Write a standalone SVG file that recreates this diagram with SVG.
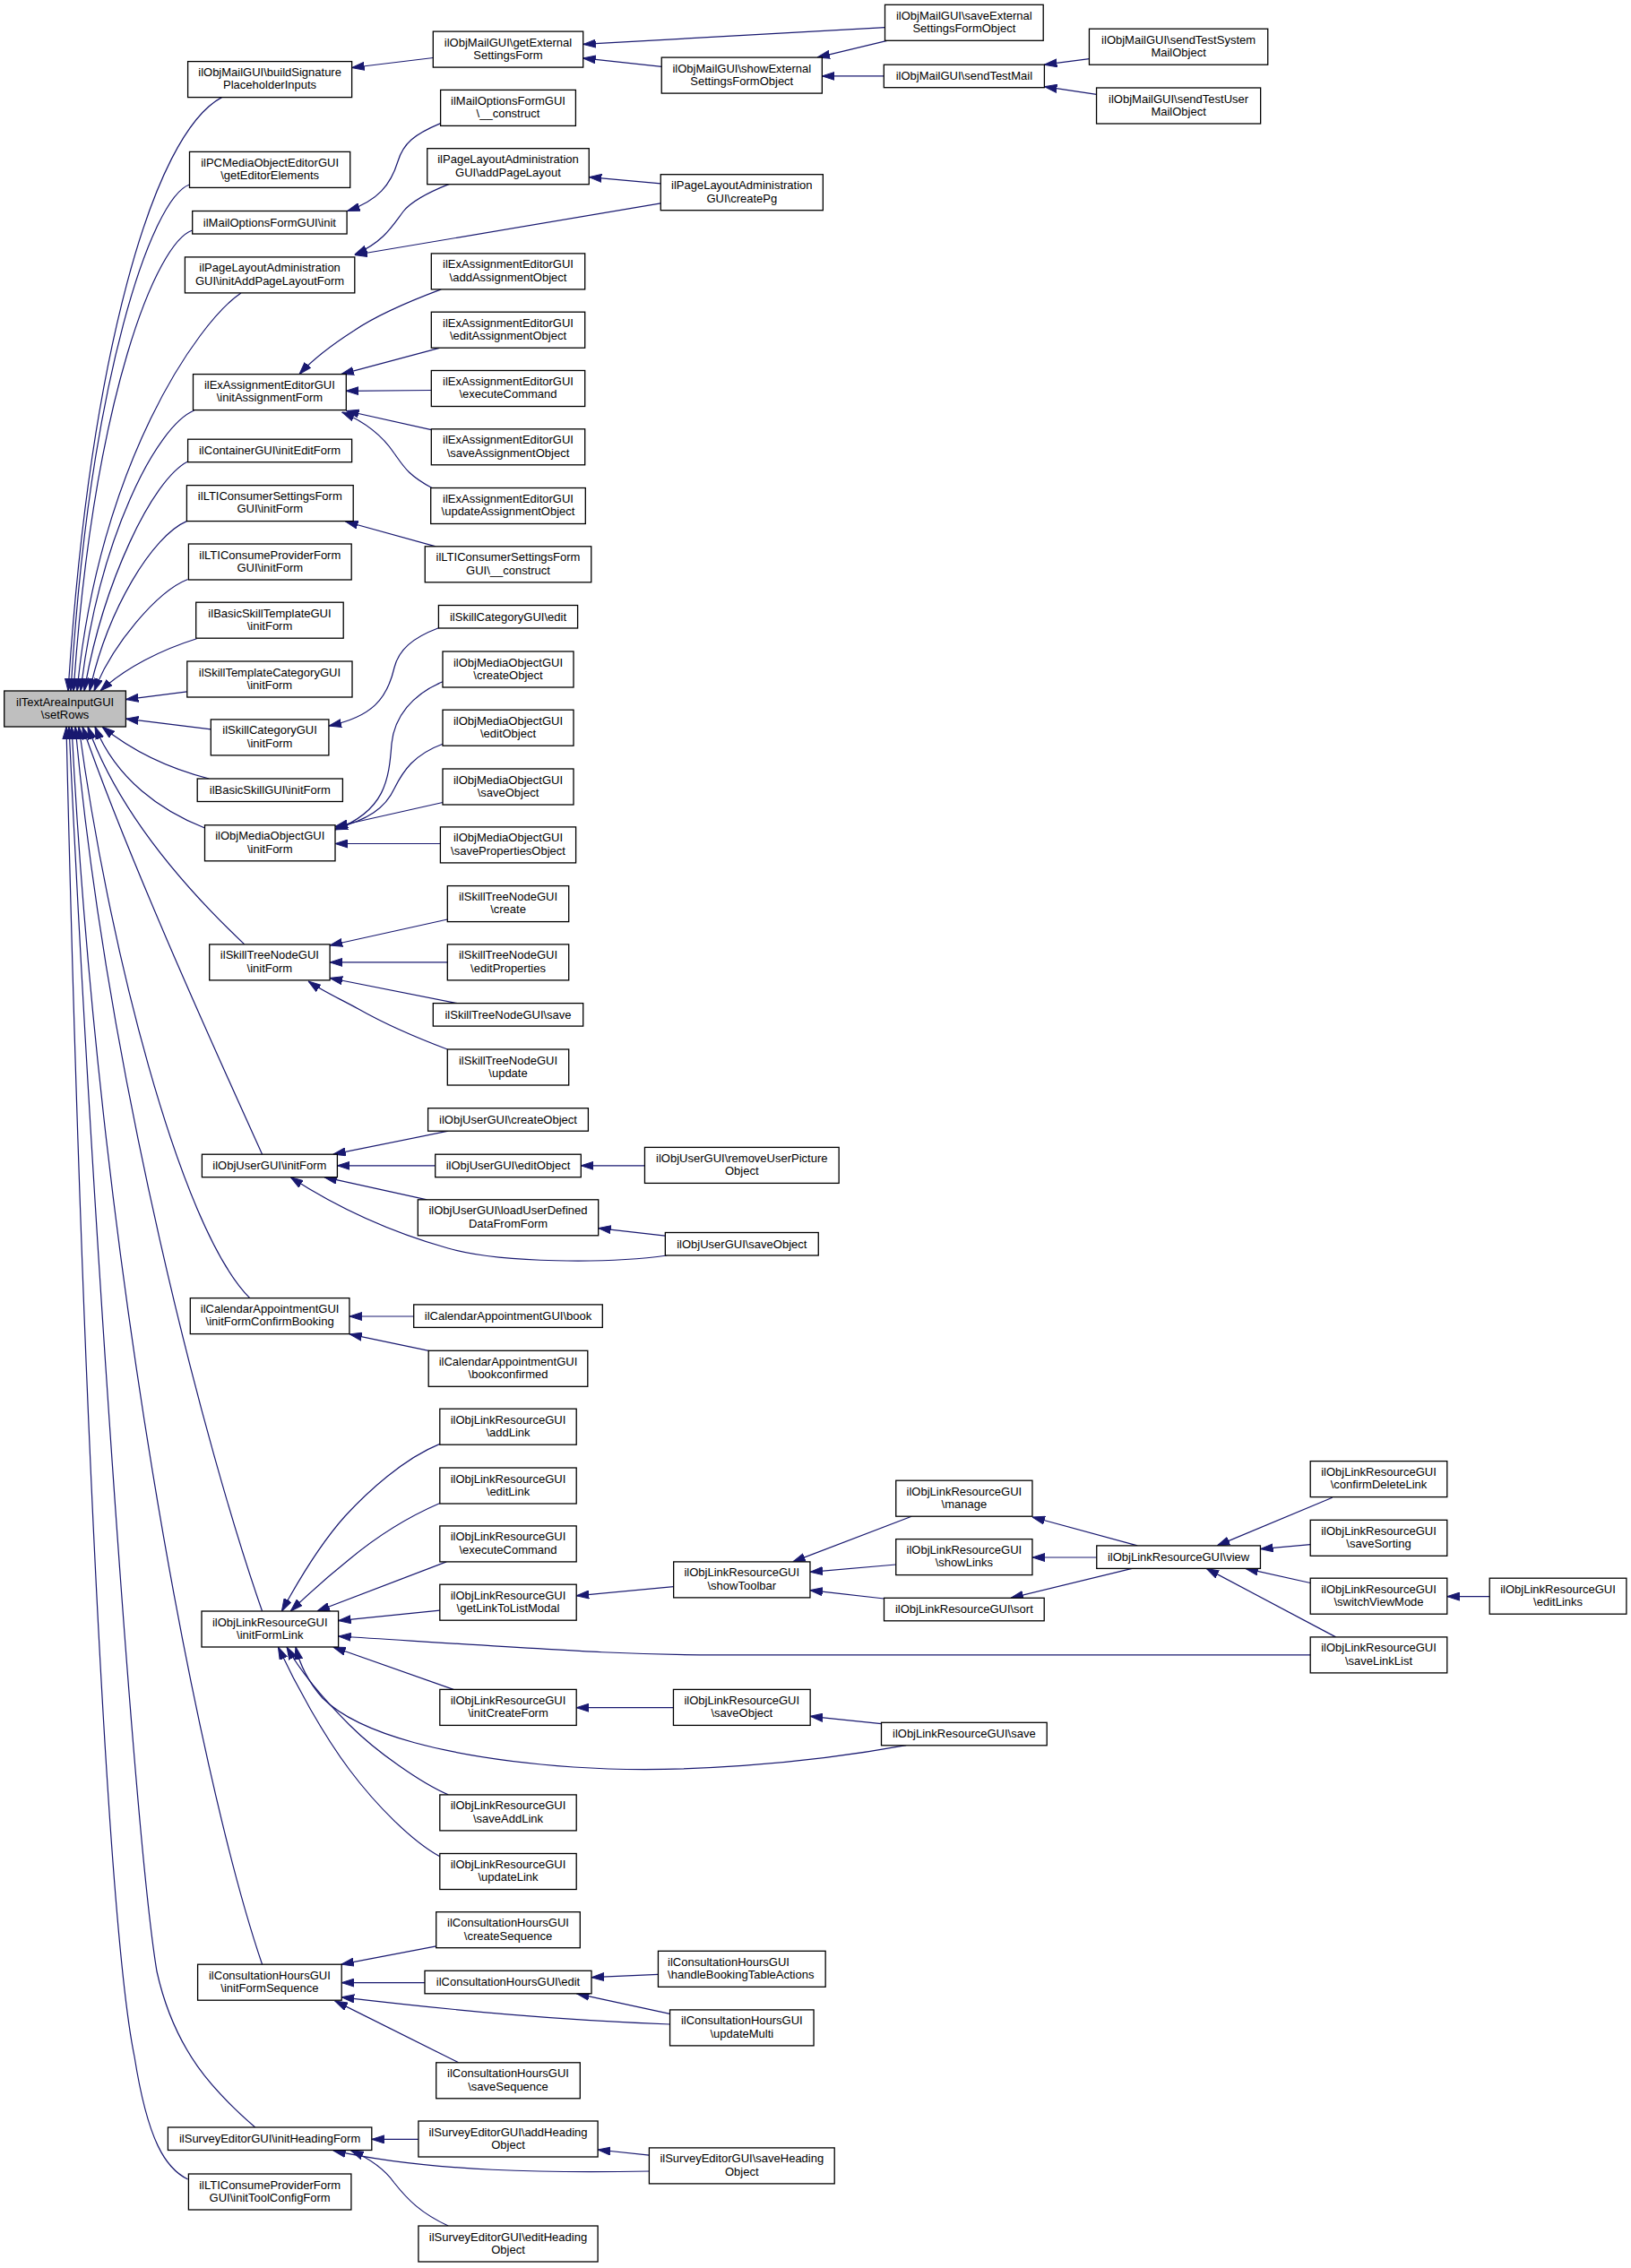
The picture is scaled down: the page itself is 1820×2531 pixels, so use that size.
<svg xmlns="http://www.w3.org/2000/svg" width="1820" height="2531" viewBox="0 0 1820 2531">
<defs>
<style>
.n rect{fill:#fff;stroke:#000;stroke-width:1.3}
.n text{font-family:"Liberation Sans",Arial,sans-serif;font-size:13px;fill:#000;text-anchor:middle}
.n text.l{text-anchor:start}
.root rect{fill:#bfbfbf}
.e path{fill:none;stroke:#191970;stroke-width:1.2;marker-end:url(#a)}
</style>
<marker id="a" markerUnits="userSpaceOnUse" markerWidth="14" markerHeight="10" refX="14" refY="5" orient="auto"><path d="M0,0.5 L14,5 L0,9.5 z" fill="#191970" stroke="#191970" stroke-width="1"/></marker>
</defs>
<rect x="0" y="0" width="1820" height="2531" fill="#fff"/>
<g id="edges" class="e">
<path d="M247.5,108.6 C170,150 100,400 76,771"/>
<path d="M211.5,206 C170,220 100,420 79,771"/>
<path d="M214.7,257 C175,270 105,440 82,771"/>
<path d="M268.9,327 C220,360 110,520 86,771"/>
<path d="M216.7,458 C175,475 110,600 90,771"/>
<path d="M209.6,515 C170,535 115,650 94,771"/>
<path d="M208.4,581.6 C170,598 120,680 100,771"/>
<path d="M209.6,646.5 C175,660 125,720 105,771"/>
<path d="M219.5,712.7 C180,725 140,745 112,771"/>
<path d="M208.8,771.8 L140.4,780.6"/>
<path d="M235.3,813.9 L140.4,802.2"/>
<path d="M233.3,869 C190,858 150,840 114,811"/>
<path d="M228.5,924 C180,905 130,870 106,811"/>
<path d="M272.8,1053.9 C200,985 130,900 98,811"/>
<path d="M292.6,1288.2 C230,1150 140,950 92,811"/>
<path d="M278.8,1448.6 C200,1370 120,1050 88,811"/>
<path d="M292.6,1798 C230,1620 120,1200 84,811"/>
<path d="M292.6,2192.2 C220,1980 110,1400 80,811"/>
<path d="M284.7,2374 C240,2335 195,2290 175,2200 C150,2050 100,1300 77,811"/>
<path d="M209.6,2432 C185,2420 165,2390 150,2295 C120,2150 90,1500 74,811"/>
<path d="M483.3,64.5 L392.6,75.5"/>
<path d="M987.5,30.6 L650.7,49.4"/>
<path d="M738.3,74.3 L650.7,64.9"/>
<path d="M990,45.3 L912,64.1"/>
<path d="M986.3,84.9 L917.4,84.9"/>
<path d="M1215.5,65.7 L1165.4,72.2"/>
<path d="M1223.6,105.3 L1165.4,96.7"/>
<path d="M491.6,137.6 C462,150 450,160 444,180 C436,206 422,224 387.5,235.5"/>
<path d="M501.4,205.4 C472,217 458,226 450,236 C438,252 428,270 395.8,284"/>
<path d="M737.3,204.9 L657.3,197.6"/>
<path d="M737.3,226.9 L395.8,284.5"/>
<path d="M492.3,322.9 C460,335 420,352 395,369 C370,385 350,400 334,417.6"/>
<path d="M490.3,388.4 L380.8,417.6"/>
<path d="M481.3,435.5 L386.3,436.3"/>
<path d="M481.3,479.6 L386.5,458.5"/>
<path d="M482,544.5 C455,530 450,520 440,506 C428,488 410,472 381.6,460"/>
<path d="M486.3,609.8 L385.5,582"/>
<path d="M489.4,700.8 C460,712 445,725 440,745 C432,780 415,800 367,810"/>
<path d="M494,760.8 C460,775 440,800 437,830 C434,870 430,905 374,926"/>
<path d="M494,830.2 C462,842 450,860 440,880 C430,902 410,915 374,924.5"/>
<path d="M494,895.5 L374,922.5"/>
<path d="M491.4,941.5 L374,941.5"/>
<path d="M499.3,1026 L368.1,1055"/>
<path d="M499.3,1073.9 L368.1,1073.9"/>
<path d="M510,1119.6 L368.1,1091.5"/>
<path d="M499.3,1171 C470,1160 430,1143 400,1126 C380,1115 360,1106 344,1095"/>
<path d="M500.2,1262.2 L371.7,1288.2"/>
<path d="M485.7,1300.8 L376.4,1300.8"/>
<path d="M476.5,1338.8 L361.8,1313.7"/>
<path d="M744.3,1401 C680,1410 560,1410 500,1393 C440,1376 380,1350 324.2,1313.7"/>
<path d="M719.4,1300.8 L648.3,1300.8"/>
<path d="M742.3,1379.2 L667.7,1370.6"/>
<path d="M461.7,1469 L389.9,1469"/>
<path d="M478.5,1507.3 L389.9,1488.8"/>
<path d="M490.8,1611.4 C450,1628 410,1665 385,1692 C360,1720 335,1760 314.4,1798"/>
<path d="M490.8,1677.5 C455,1693 420,1715 390,1740 C365,1760 345,1778 324.2,1798"/>
<path d="M498.2,1742.9 L353.9,1798"/>
<path d="M490.8,1797.1 L377.6,1808.6"/>
<path d="M1462.2,1846.9 L800,1846.9 C700,1846.9 650,1843 377.6,1826"/>
<path d="M506,1885.4 L371.7,1838"/>
<path d="M1011.2,1947.7 C900,1968 760,1980 640,1972 C500,1962 400,1935 360,1895 C345,1878 335,1860 330,1838"/>
<path d="M500.2,2002.9 C470,1990 420,1955 390,1925 C360,1895 335,1865 320,1838"/>
<path d="M490.8,2071.8 C460,2055 420,2015 390,1975 C360,1935 330,1880 310.4,1838"/>
<path d="M751.6,1770.6 L643.2,1780.8"/>
<path d="M1017.2,1692.2 L884.7,1742.9"/>
<path d="M999.8,1746 L903.9,1754.3"/>
<path d="M986.5,1784 L903.9,1774.7"/>
<path d="M1269.2,1724.9 L1152,1693"/>
<path d="M1223.7,1738 L1152,1738"/>
<path d="M1263.3,1750.4 L1127.9,1783.3"/>
<path d="M1486.7,1671.2 L1358.2,1724.9"/>
<path d="M1462.2,1723.7 L1406.5,1728.6"/>
<path d="M1462.2,1766.5 L1389.8,1750.4"/>
<path d="M1490.6,1826.9 L1346.3,1750.4"/>
<path d="M1662.2,1781.6 L1614.8,1781.6"/>
<path d="M751.5,1905.7 L643.2,1905.7"/>
<path d="M983.5,1923.6 L904.1,1915.3"/>
<path d="M486.8,2171.9 L380.8,2192.2"/>
<path d="M474,2212.6 L381.2,2212.6"/>
<path d="M747.6,2259 C620,2254 520,2245 381.2,2228.8"/>
<path d="M511.7,2301.8 L373.7,2232.9"/>
<path d="M734.5,2203.4 L660,2206.7"/>
<path d="M747.6,2247.4 L643.5,2224.8"/>
<path d="M466.9,2387.4 L414.8,2387.4"/>
<path d="M724.4,2423 C620,2425 480,2424 371.7,2399.8"/>
<path d="M500.2,2484 C470,2470 455,2455 440,2436 C430,2422 415,2410 391.5,2399.8"/>
<path d="M724.4,2405.2 L667.1,2399"/>
</g>
<g id="n_setRows" class="n root"><rect x="4.7" y="771" width="135.7" height="40"/><text x="72.6" y="787.5">ilTextAreaInputGUI</text><text x="72.6" y="801.8">\setRows</text></g>
<g id="n_buildSignature" class="n"><rect x="209.6" y="68.6" width="183" height="40"/><text x="301.1" y="85.1">ilObjMailGUI\buildSignature</text><text x="301.1" y="99.4">PlaceholderInputs</text></g>
<g id="n_getEditorElements" class="n"><rect x="211.5" y="169.4" width="179.2" height="40"/><text x="301.1" y="185.9">ilPCMediaObjectEditorGUI</text><text x="301.1" y="200.2">\getEditorElements</text></g>
<g id="n_mailOptInit" class="n"><rect x="214.7" y="235.5" width="172.4" height="25.5"/><text x="300.9" y="252.5">ilMailOptionsFormGUI\init</text></g>
<g id="n_initAddPageLayoutForm" class="n"><rect x="206.4" y="286.9" width="189.4" height="40"/><text x="301.1" y="303.4">ilPageLayoutAdministration</text><text x="301.1" y="317.7">GUI\initAddPageLayoutForm</text></g>
<g id="n_initAssignmentForm" class="n"><rect x="215.5" y="417.6" width="170.8" height="40"/><text x="300.9" y="434.1">ilExAssignmentEditorGUI</text><text x="300.9" y="448.4">\initAssignmentForm</text></g>
<g id="n_containerInitEditForm" class="n"><rect x="209.6" y="490.2" width="183" height="25.5"/><text x="301.1" y="507.2">ilContainerGUI\initEditForm</text></g>
<g id="n_ltiSettingsInitForm" class="n"><rect x="208.4" y="541.6" width="185.8" height="40"/><text x="301.3" y="558.1">ilLTIConsumerSettingsForm</text><text x="301.3" y="572.4">GUI\initForm</text></g>
<g id="n_ltiProviderInitForm" class="n"><rect x="210.4" y="607" width="181.8" height="40"/><text x="301.3" y="623.5">ilLTIConsumeProviderForm</text><text x="301.3" y="637.8">GUI\initForm</text></g>
<g id="n_basicSkillTemplateInitForm" class="n"><rect x="218.7" y="672.2" width="164.5" height="40"/><text x="301" y="688.7">ilBasicSkillTemplateGUI</text><text x="301" y="703">\initForm</text></g>
<g id="n_skillTemplateCategoryInitForm" class="n"><rect x="208.8" y="738" width="184.2" height="40"/><text x="300.9" y="754.5">ilSkillTemplateCategoryGUI</text><text x="300.9" y="768.8">\initForm</text></g>
<g id="n_skillCategoryInitForm" class="n"><rect x="235.3" y="802.9" width="131.6" height="40"/><text x="301.1" y="819.4">ilSkillCategoryGUI</text><text x="301.1" y="833.7">\initForm</text></g>
<g id="n_basicSkillInitForm" class="n"><rect x="220.2" y="869" width="162.2" height="25.5"/><text x="301.3" y="886">ilBasicSkillGUI\initForm</text></g>
<g id="n_mediaInitForm" class="n"><rect x="228.5" y="920.8" width="145.5" height="40"/><text x="301.25" y="937.3">ilObjMediaObjectGUI</text><text x="301.25" y="951.6">\initForm</text></g>
<g id="n_skillTreeNodeInitForm" class="n"><rect x="233.7" y="1053.9" width="134.4" height="40"/><text x="300.9" y="1070.4">ilSkillTreeNodeGUI</text><text x="300.9" y="1084.7">\initForm</text></g>
<g id="n_userInitForm" class="n"><rect x="225.4" y="1288.2" width="151" height="25.5"/><text x="300.9" y="1305.2">ilObjUserGUI\initForm</text></g>
<g id="n_calInitFormConfirmBooking" class="n"><rect x="212.3" y="1448.6" width="177.6" height="40"/><text x="301.1" y="1465.1">ilCalendarAppointmentGUI</text><text x="301.1" y="1479.4">\initFormConfirmBooking</text></g>
<g id="n_linkInitFormLink" class="n"><rect x="225" y="1798" width="152.6" height="40"/><text x="301.3" y="1814.5">ilObjLinkResourceGUI</text><text x="301.3" y="1828.8">\initFormLink</text></g>
<g id="n_chInitFormSequence" class="n"><rect x="220.6" y="2192.2" width="160.6" height="40"/><text x="300.9" y="2208.7">ilConsultationHoursGUI</text><text x="300.9" y="2223">\initFormSequence</text></g>
<g id="n_surveyInitHeadingForm" class="n"><rect x="187.4" y="2374" width="227.4" height="25.5"/><text x="301.1" y="2391">ilSurveyEditorGUI\initHeadingForm</text></g>
<g id="n_ltiInitToolConfigForm" class="n"><rect x="210.4" y="2426" width="181.5" height="40"/><text x="301.15" y="2442.5">ilLTIConsumeProviderForm</text><text x="301.15" y="2456.8">GUI\initToolConfigForm</text></g>
<g id="n_getExternalSettingsForm" class="n"><rect x="483.3" y="35.1" width="167.4" height="40"/><text x="567" y="51.6">ilObjMailGUI\getExternal</text><text x="567" y="65.9">SettingsForm</text></g>
<g id="n_mailOptConstruct" class="n"><rect x="491.6" y="100.4" width="150.8" height="40"/><text x="567" y="116.9">ilMailOptionsFormGUI</text><text x="567" y="131.2">\__construct</text></g>
<g id="n_addPageLayout" class="n"><rect x="476.75" y="165.7" width="180.5" height="40"/><text x="567" y="182.2">ilPageLayoutAdministration</text><text x="567" y="196.5">GUI\addPageLayout</text></g>
<g id="n_addAssignmentObject" class="n"><rect x="481.3" y="282.9" width="171.4" height="40"/><text x="567" y="299.4">ilExAssignmentEditorGUI</text><text x="567" y="313.7">\addAssignmentObject</text></g>
<g id="n_editAssignmentObject" class="n"><rect x="481.3" y="348.2" width="171.4" height="40"/><text x="567" y="364.7">ilExAssignmentEditorGUI</text><text x="567" y="379">\editAssignmentObject</text></g>
<g id="n_exExecuteCommand" class="n"><rect x="481.3" y="413.5" width="171.4" height="40"/><text x="567" y="430">ilExAssignmentEditorGUI</text><text x="567" y="444.3">\executeCommand</text></g>
<g id="n_saveAssignmentObject" class="n"><rect x="481.3" y="478.8" width="171.4" height="40"/><text x="567" y="495.3">ilExAssignmentEditorGUI</text><text x="567" y="509.6">\saveAssignmentObject</text></g>
<g id="n_updateAssignmentObject" class="n"><rect x="480.7" y="544.5" width="172.6" height="40"/><text x="567" y="561">ilExAssignmentEditorGUI</text><text x="567" y="575.3">\updateAssignmentObject</text></g>
<g id="n_ltiSettingsConstruct" class="n"><rect x="474.25" y="609.8" width="185.5" height="40"/><text x="567" y="626.3">ilLTIConsumerSettingsForm</text><text x="567" y="640.6">GUI\__construct</text></g>
<g id="n_skillCategoryEdit" class="n"><rect x="489.4" y="675.5" width="155.2" height="25.5"/><text x="567" y="692.5">ilSkillCategoryGUI\edit</text></g>
<g id="n_mediaCreateObject" class="n"><rect x="494" y="727" width="146" height="40"/><text x="567" y="743.5">ilObjMediaObjectGUI</text><text x="567" y="757.8">\createObject</text></g>
<g id="n_mediaEditObject" class="n"><rect x="494" y="792.2" width="146" height="40"/><text x="567" y="808.7">ilObjMediaObjectGUI</text><text x="567" y="823">\editObject</text></g>
<g id="n_mediaSaveObject" class="n"><rect x="494" y="858" width="146" height="40"/><text x="567" y="874.5">ilObjMediaObjectGUI</text><text x="567" y="888.8">\saveObject</text></g>
<g id="n_mediaSavePropertiesObject" class="n"><rect x="491.4" y="922.9" width="151.2" height="40"/><text x="567" y="939.4">ilObjMediaObjectGUI</text><text x="567" y="953.7">\savePropertiesObject</text></g>
<g id="n_stnCreate" class="n"><rect x="499.3" y="988.6" width="135.4" height="40"/><text x="567" y="1005.1">ilSkillTreeNodeGUI</text><text x="567" y="1019.4">\create</text></g>
<g id="n_stnEditProperties" class="n"><rect x="499.3" y="1053.9" width="135.4" height="40"/><text x="567" y="1070.4">ilSkillTreeNodeGUI</text><text x="567" y="1084.7">\editProperties</text></g>
<g id="n_stnSave" class="n"><rect x="483.3" y="1119.6" width="167.4" height="25.5"/><text x="567" y="1136.6">ilSkillTreeNodeGUI\save</text></g>
<g id="n_stnUpdate" class="n"><rect x="499.3" y="1171" width="135.4" height="40"/><text x="567" y="1187.5">ilSkillTreeNodeGUI</text><text x="567" y="1201.8">\update</text></g>
<g id="n_userCreateObject" class="n"><rect x="477.6" y="1236.7" width="178.8" height="25.5"/><text x="567" y="1253.7">ilObjUserGUI\createObject</text></g>
<g id="n_userEditObject" class="n"><rect x="485.7" y="1288.2" width="162.6" height="25.5"/><text x="567" y="1305.2">ilObjUserGUI\editObject</text></g>
<g id="n_userLoadUserDefined" class="n"><rect x="466.3" y="1338.8" width="201.4" height="40"/><text x="567" y="1355.3">ilObjUserGUI\loadUserDefined</text><text x="567" y="1369.6">DataFromForm</text></g>
<g id="n_calBook" class="n"><rect x="461.7" y="1455.9" width="210.6" height="25.5"/><text x="567" y="1472.9">ilCalendarAppointmentGUI\book</text></g>
<g id="n_calBookconfirmed" class="n"><rect x="478.2" y="1507.3" width="177.6" height="40"/><text x="567" y="1523.8">ilCalendarAppointmentGUI</text><text x="567" y="1538.1">\bookconfirmed</text></g>
<g id="n_linkAddLink" class="n"><rect x="490.8" y="1572.2" width="152.4" height="40"/><text x="567" y="1588.7">ilObjLinkResourceGUI</text><text x="567" y="1603">\addLink</text></g>
<g id="n_linkEditLink" class="n"><rect x="490.8" y="1638" width="152.4" height="40"/><text x="567" y="1654.5">ilObjLinkResourceGUI</text><text x="567" y="1668.8">\editLink</text></g>
<g id="n_linkExecuteCommand" class="n"><rect x="490.8" y="1702.9" width="152.4" height="40"/><text x="567" y="1719.4">ilObjLinkResourceGUI</text><text x="567" y="1733.7">\executeCommand</text></g>
<g id="n_linkGetLinkToListModal" class="n"><rect x="490.8" y="1768.2" width="152.4" height="40"/><text x="567" y="1784.7">ilObjLinkResourceGUI</text><text x="567" y="1799">\getLinkToListModal</text></g>
<g id="n_linkInitCreateForm" class="n"><rect x="490.8" y="1885.4" width="152.4" height="40"/><text x="567" y="1901.9">ilObjLinkResourceGUI</text><text x="567" y="1916.2">\initCreateForm</text></g>
<g id="n_linkSaveAddLink" class="n"><rect x="490.8" y="2002.9" width="152.4" height="40"/><text x="567" y="2019.4">ilObjLinkResourceGUI</text><text x="567" y="2033.7">\saveAddLink</text></g>
<g id="n_linkUpdateLink" class="n"><rect x="490.8" y="2068.5" width="152.4" height="40"/><text x="567" y="2085">ilObjLinkResourceGUI</text><text x="567" y="2099.3">\updateLink</text></g>
<g id="n_chCreateSequence" class="n"><rect x="486.7" y="2133.7" width="160.6" height="40"/><text x="567" y="2150.2">ilConsultationHoursGUI</text><text x="567" y="2164.5">\createSequence</text></g>
<g id="n_chEdit" class="n"><rect x="474" y="2199.3" width="186" height="25.5"/><text x="567" y="2216.3">ilConsultationHoursGUI\edit</text></g>
<g id="n_chSaveSequence" class="n"><rect x="486.7" y="2301.8" width="160.6" height="40"/><text x="567" y="2318.3">ilConsultationHoursGUI</text><text x="567" y="2332.6">\saveSequence</text></g>
<g id="n_surveyAddHeading" class="n"><rect x="466.9" y="2367" width="200.2" height="40"/><text x="567" y="2383.5">ilSurveyEditorGUI\addHeading</text><text x="567" y="2397.8">Object</text></g>
<g id="n_surveyEditHeading" class="n"><rect x="466.9" y="2484" width="200.2" height="40"/><text x="567" y="2500.5">ilSurveyEditorGUI\editHeading</text><text x="567" y="2514.8">Object</text></g>
<g id="n_showExternal" class="n"><rect x="738.25" y="64.1" width="179.1" height="40"/><text x="827.8" y="80.6">ilObjMailGUI\showExternal</text><text x="827.8" y="94.9">SettingsFormObject</text></g>
<g id="n_createPg" class="n"><rect x="737.25" y="194.7" width="181.1" height="40"/><text x="827.8" y="211.2">ilPageLayoutAdministration</text><text x="827.8" y="225.5">GUI\createPg</text></g>
<g id="n_userRemoveUserPicture" class="n"><rect x="719.45" y="1280.4" width="216.7" height="40"/><text x="827.8" y="1296.9">ilObjUserGUI\removeUserPicture</text><text x="827.8" y="1311.2">Object</text></g>
<g id="n_userSaveObject" class="n"><rect x="742.35" y="1375.5" width="170.9" height="25.5"/><text x="827.8" y="1392.5">ilObjUserGUI\saveObject</text></g>
<g id="n_linkShowToolbar" class="n"><rect x="751.65" y="1742.9" width="152.3" height="40"/><text x="827.8" y="1759.4">ilObjLinkResourceGUI</text><text x="827.8" y="1773.7">\showToolbar</text></g>
<g id="n_linkSaveObject" class="n"><rect x="751.45" y="1885.4" width="152.7" height="40"/><text x="827.8" y="1901.9">ilObjLinkResourceGUI</text><text x="827.8" y="1916.2">\saveObject</text></g>
<g id="n_chHandleBooking" class="n"><rect x="734.45" y="2177.3" width="186.7" height="40"/><text class="l" x="745.1" y="2193.8">ilConsultationHoursGUI</text><text class="l" x="745.1" y="2208.1">\handleBookingTableActions</text></g>
<g id="n_chUpdateMulti" class="n"><rect x="747.55" y="2242.9" width="160.5" height="40"/><text x="827.8" y="2259.4">ilConsultationHoursGUI</text><text x="827.8" y="2273.7">\updateMulti</text></g>
<g id="n_surveySaveHeading" class="n"><rect x="724.4" y="2396.9" width="206.8" height="40"/><text x="827.8" y="2413.4">ilSurveyEditorGUI\saveHeading</text><text x="827.8" y="2427.7">Object</text></g>
<g id="n_saveExternal" class="n"><rect x="987.5" y="5.3" width="176.7" height="40"/><text x="1075.85" y="21.8">ilObjMailGUI\saveExternal</text><text x="1075.85" y="36.1">SettingsFormObject</text></g>
<g id="n_sendTestMail" class="n"><rect x="986.3" y="72.2" width="179.1" height="25.5"/><text x="1075.85" y="89.2">ilObjMailGUI\sendTestMail</text></g>
<g id="n_linkManage" class="n"><rect x="999.75" y="1652.2" width="152.2" height="40"/><text x="1075.85" y="1668.7">ilObjLinkResourceGUI</text><text x="1075.85" y="1683">\manage</text></g>
<g id="n_linkShowLinks" class="n"><rect x="999.75" y="1717.6" width="152.2" height="40"/><text x="1075.85" y="1734.1">ilObjLinkResourceGUI</text><text x="1075.85" y="1748.4">\showLinks</text></g>
<g id="n_linkSort" class="n"><rect x="986.5" y="1783.3" width="178.7" height="25.5"/><text x="1075.85" y="1800.3">ilObjLinkResourceGUI\sort</text></g>
<g id="n_linkSave" class="n"><rect x="983.5" y="1922.3" width="184.7" height="25.5"/><text x="1075.85" y="1939.3">ilObjLinkResourceGUI\save</text></g>
<g id="n_sendTestSystem" class="n"><rect x="1215.45" y="32.2" width="199.3" height="40"/><text x="1315.1" y="48.7">ilObjMailGUI\sendTestSystem</text><text x="1315.1" y="63">MailObject</text></g>
<g id="n_sendTestUser" class="n"><rect x="1223.55" y="98" width="183.1" height="40"/><text x="1315.1" y="114.5">ilObjMailGUI\sendTestUser</text><text x="1315.1" y="128.8">MailObject</text></g>
<g id="n_linkView" class="n"><rect x="1223.75" y="1724.9" width="182.7" height="25.5"/><text x="1315.1" y="1741.9">ilObjLinkResourceGUI\view</text></g>
<g id="n_linkConfirmDeleteLink" class="n"><rect x="1462.2" y="1630.6" width="152.6" height="40"/><text x="1538.5" y="1647.1">ilObjLinkResourceGUI</text><text x="1538.5" y="1661.4">\confirmDeleteLink</text></g>
<g id="n_linkSaveSorting" class="n"><rect x="1462.2" y="1696.3" width="152.6" height="40"/><text x="1538.5" y="1712.8">ilObjLinkResourceGUI</text><text x="1538.5" y="1727.1">\saveSorting</text></g>
<g id="n_linkSwitchViewMode" class="n"><rect x="1462.2" y="1761.2" width="152.6" height="40"/><text x="1538.5" y="1777.7">ilObjLinkResourceGUI</text><text x="1538.5" y="1792">\switchViewMode</text></g>
<g id="n_linkSaveLinkList" class="n"><rect x="1462.2" y="1826.9" width="152.6" height="40"/><text x="1538.5" y="1843.4">ilObjLinkResourceGUI</text><text x="1538.5" y="1857.7">\saveLinkList</text></g>
<g id="n_linkEditLinks" class="n"><rect x="1662.2" y="1761.2" width="152.7" height="40"/><text x="1738.55" y="1777.7">ilObjLinkResourceGUI</text><text x="1738.55" y="1792">\editLinks</text></g>
</svg>
